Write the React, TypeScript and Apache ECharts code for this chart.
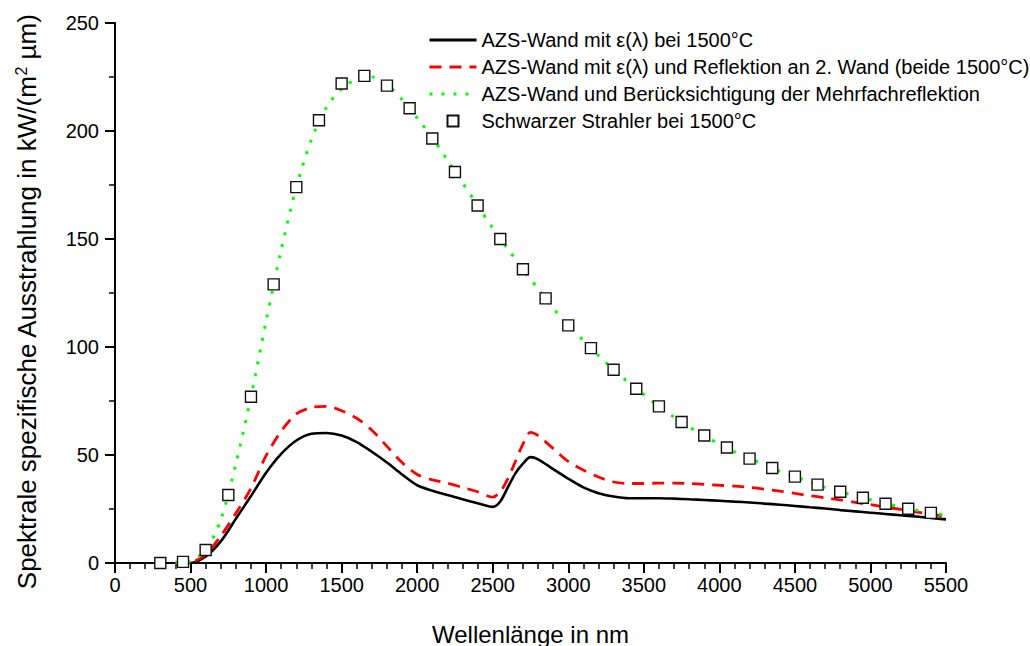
import React, { useEffect, useRef } from "react";
import * as echarts from "echarts";

// Wavelengths (nm) for the three computed curves
const lineX = [
  400, 500, 600, 700, 800, 900, 1000, 1100, 1200, 1300, 1400, 1500, 1600, 1700, 1800, 1900, 2000, 2100, 2200, 2300, 2400, 2500,
  2550, 2600, 2650, 2700, 2750, 2800,
  2900, 3000, 3100, 3200, 3300, 3400, 3500, 3600, 3700, 3800, 3900, 4000, 4100, 4200, 4300, 4400, 4500, 4600, 4700, 4800, 4900, 5000,
  5100, 5200, 5300, 5400, 5500,
];

// AZS-Wand mit ε(λ) bei 1500°C
const azsWand = [
  0, 0, 3, 10, 20.5, 31, 41.8, 50.5, 56.7, 59.8, 60.2, 59, 56, 51.5, 46.5, 41, 36, 33.5, 31.5, 29.5, 27.7, 26,
  28.5, 35, 41.5, 46, 49, 48,
  43.5, 39, 35, 32.3, 30.8, 30, 30, 30, 29.8, 29.5, 29.2, 28.8, 28.4, 28, 27.5, 27, 26.4, 25.8, 25.2, 24.5, 23.9, 23.3,
  22.7, 22.1, 21.5, 20.8, 20.2,
];

// AZS-Wand mit ε(λ) und Reflektion an 2. Wand
const azsReflektion = [
  0, 0.3, 4, 12.5, 23, 34.6, 49.7, 61, 69, 72, 72.5, 70.5, 67, 61.5, 54, 46.5, 41, 38.5, 37, 35, 33, 30.5,
  33, 39, 47, 55, 60.5, 59,
  53, 47, 43, 39.8, 37.5, 36.8, 36.8, 37, 37, 36.8, 36.4, 36, 35.6, 35, 34.2, 33.3, 32.2, 31.2, 30.2, 29.2, 28.1, 27,
  25.9, 24.8, 23.7, 22.6, 21.6,
];

// AZS-Wand und Berücksichtigung der Mehrfachreflektion
const azsMehrfach = [
  0, 0.8, 6, 20, 46, 77, 112, 145, 174, 196, 211, 219.5, 224, 225, 221.5, 214.5, 206, 197, 186.5, 176, 165.5, 155,
  150, 145.5, 140.5, 136, 131.5, 127,
  118, 110, 103, 96, 89.5, 83.5, 78, 72.5, 67.5, 63, 59, 55, 51.5, 48.3, 45.5, 42.5, 40, 37.5, 35, 33, 31, 29.3,
  27.5, 26, 24.5, 23.2, 22,
];

// Schwarzer Strahler bei 1500°C
const bbX = [
  300, 450, 600, 750, 900, 1050, 1200, 1350, 1500, 1650, 1800, 1950, 2100, 2250, 2400, 2550, 2700, 2850, 3000, 3150,
  3300, 3450, 3600, 3750, 3900, 4050, 4200, 4350, 4500, 4650, 4800, 4950, 5100, 5250, 5400,
];
const bbY = [
  0, 0.5, 6, 31.5, 77, 129, 174, 205, 222, 225.5, 221, 210.5, 196.5, 181, 165.5, 150, 136, 122.5, 110, 99.5,
  89.5, 80.7, 72.5, 65.3, 59, 53.5, 48.3, 44, 40, 36.3, 33, 30.2, 27.4, 25.1, 23.2,
];

const seriesNames = [
  "AZS-Wand mit ε(λ) bei 1500°C",
  "AZS-Wand mit ε(λ) und Reflektion an 2. Wand (beide 1500°C)",
  "AZS-Wand und Berücksichtigung der Mehrfachreflektion",
  "Schwarzer Strahler bei 1500°C",
];

const FONT = 'Arial, "Liberation Sans", sans-serif';

const pairs = (xs: number[], ys: number[]) => xs.map((x, i) => [x, ys[i]]);

export default function App() {
  const ref = useRef<HTMLDivElement>(null);
  useEffect(() => {
    if (!ref.current) return;
    const chart = echarts.init(ref.current, undefined, { renderer: "svg" });
    chart.setOption({
      animation: false,
      backgroundColor: "#fff",
      textStyle: { fontFamily: FONT },
      grid: { left: 115, right: 84, top: 23, bottom: 83, containLabel: false, outerBoundsMode: "none" },
      legend: {
        orient: "vertical",
        left: 428,
        top: 30,
        padding: 0,
        itemWidth: 47,
        itemHeight: 11,
        itemGap: 7,
        symbolKeepAspect: true,
        textStyle: { fontFamily: FONT, fontSize: 20, color: "#000", lineHeight: 20 },
        data: [
          { name: seriesNames[0], itemStyle: { opacity: 0 }, lineStyle: { width: 2.8 } },
          { name: seriesNames[1], itemStyle: { opacity: 0 }, lineStyle: { width: 3 } },
          { name: seriesNames[2], itemStyle: { opacity: 0 }, lineStyle: { width: 3 } },
          { name: seriesNames[3], icon: "path://M0,0L10,0L10,10L0,10Z" },
        ],
      },
      xAxis: {
        type: "value",
        min: 0,
        max: 5500,
        interval: 500,
        name: "Wellenlänge in nm",
        nameLocation: "middle",
        nameGap: 59,
        nameTextStyle: { fontFamily: FONT, fontSize: 24, color: "#000" },
        axisLine: { lineStyle: { color: "#000", width: 2 } },
        axisTick: { length: 10, lineStyle: { color: "#000", width: 2 } },
        minorTick: { show: true, splitNumber: 5, length: 6, lineStyle: { color: "#000", width: 1.5 } },
        splitLine: { show: false },
        axisLabel: { fontFamily: FONT, fontSize: 20, color: "#000", margin: 12, formatter: (v: number) => String(v) },
      },
      yAxis: {
        type: "value",
        min: 0,
        max: 250,
        interval: 50,
        name: "{a|Spektrale spezifische Ausstrahlung in kW/(m}{s|2}{a| µm)}",
        nameLocation: "middle",
        nameGap: 74,
        nameRotate: 90,
        nameTextStyle: {
          fontFamily: FONT,
          color: "#000",
          padding: [0, 18, 0, 0],
          rich: {
            a: { fontFamily: FONT, fontSize: 26, color: "#000", lineHeight: 28 },
            s: { fontFamily: FONT, fontSize: 16, color: "#000", verticalAlign: "top", lineHeight: 28 },
          },
        },
        axisLine: { show: true, lineStyle: { color: "#000", width: 2 } },
        axisTick: { show: true, length: 10, lineStyle: { color: "#000", width: 2 } },
        minorTick: { show: true, splitNumber: 2, length: 6, lineStyle: { color: "#000", width: 1.5 } },
        splitLine: { show: false },
        axisLabel: { fontFamily: FONT, fontSize: 20, color: "#000", margin: 16, formatter: (v: number) => String(v) },
      },
      series: [
        {
          name: seriesNames[0],
          type: "line",
          data: pairs(lineX, azsWand),
          symbol: "none",
          smooth: 0.3,
          lineStyle: { color: "#000", width: 2.6 },
          itemStyle: { color: "#000" },
          z: 3,
        },
        {
          name: seriesNames[1],
          type: "line",
          data: pairs(lineX, azsReflektion),
          symbol: "none",
          smooth: 0.3,
          lineStyle: { color: "#ff0000", width: 2.8, type: [12, 8] },
          itemStyle: { color: "#ff0000" },
          z: 3,
        },
        {
          name: seriesNames[2],
          type: "line",
          data: pairs(lineX, azsMehrfach),
          symbol: "none",
          smooth: 0.3,
          lineStyle: { color: "#00ff00", width: 3, type: [3, 9] },
          itemStyle: { color: "#00ff00" },
          z: 3,
        },
        {
          name: seriesNames[3],
          type: "scatter",
          data: pairs(bbX, bbY),
          symbol: "rect",
          symbolSize: 11,
          itemStyle: { color: "#fff", borderColor: "#111", borderWidth: 1.4, opacity: 1 },
          z: 4,
        },
      ],
    });
    return () => chart.dispose();
  }, []);
  return (
    <div
      ref={ref}
      style={{ position: "absolute", left: 0, top: 0, width: 1030, height: 646, background: "#fff" }}
    />
  );
}
